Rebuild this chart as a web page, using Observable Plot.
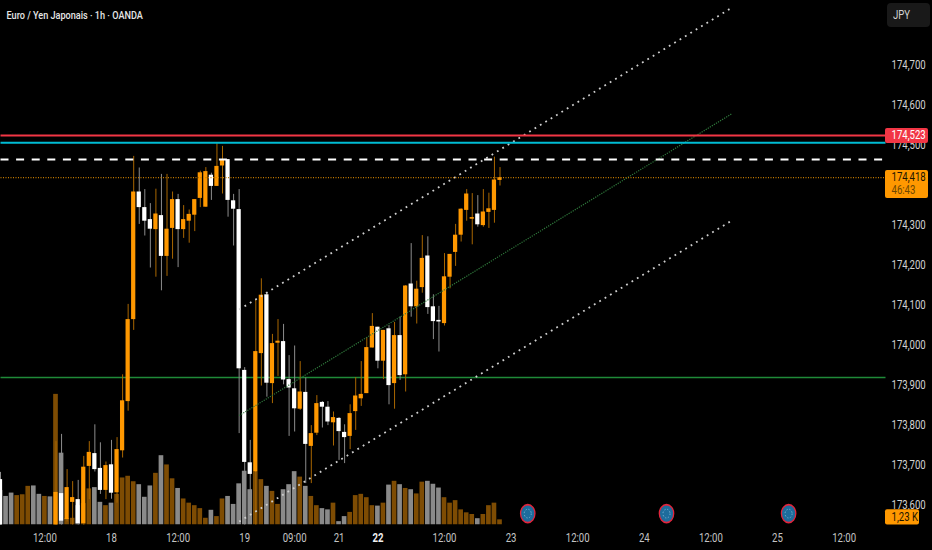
<!DOCTYPE html>
<html>
<head>
<meta charset="utf-8">
<script src="https://cdn.jsdelivr.net/npm/d3@7"></script>
<script src="https://cdn.jsdelivr.net/npm/@observablehq/plot@0.6"></script>
<style>
html,body{margin:0;padding:0;background:#000;overflow:hidden}
#chart{position:relative;width:932px;height:550px}
#unit{position:absolute;left:887px;top:3px;width:43px;height:24px;box-sizing:border-box;background:#191919;border-radius:4px;color:#d1d1d1;font:12px Roboto,sans-serif;line-height:24px;padding-left:6px}
#unit span{display:inline-block;transform:scaleX(.8);transform-origin:left center}
</style>
</head>
<body>
<div id="chart"><div id="unit"><span>JPY</span></div></div>
<script>
const N = null;
// one entry per hourly bar, hour 0 is the left edge; bars 1-9 lie below the pane
const opens = [173663,N,N,N,N,N,N,N,N,N,173536,173628,173563,173606,173613,173553,173696,173728,173691,173636,173700,173630,173735,173858,174063,174382,174343,174313,174288,174323,174221,174291,174363,174288,174309,174324,174366,174344,174424,174396,174447,174463,174360,174338,173936,173705,173682,173978,174125,173903,174004,174008,173913,173890,173839,173881,173746,173779,173856,173844,173805,173816,173781,173771,173833,173865,173878,173992,174044,173959,174040,173903,174023,173925,174152,174095,174143,174222,174095,174061,174053,174169,174231,174274,174336,174314,174327,174298,174331,174336,174411];
const closes = [173536,N,N,N,N,N,N,N,N,N,173631,173559,173643,173618,173553,173694,173731,173688,173636,173698,173629,173738,173860,174063,174382,174343,174309,174289,174327,174221,174289,174363,174288,174313,174326,174363,174430,174433,174396,174446,174461,174361,174339,173940,173706,173676,173983,174124,173904,174003,174009,173912,173892,173840,173882,173751,173778,173853,173844,173807,173818,173783,173768,173828,173872,173876,173993,174046,173959,174036,173898,174023,173923,174147,174095,174139,174216,174093,174058,174057,174170,174226,174274,174339,174377,174318,174300,174332,174340,174412,174418];
const highs = [173681,N,N,N,N,N,N,N,N,N,173758,173776,173688,173658,173661,173721,173758,173800,173755,173707,173761,173768,173925,174101,174471,174442,174388,174353,174389,174426,174426,174382,174376,174348,174337,174363,174434,174443,174429,174503,174496,174463,174376,174388,173943,173761,174113,174165,174131,174026,174063,174051,173973,173997,173958,173917,173798,173873,173858,173858,173832,173818,173800,173850,173918,173958,174018,174078,174044,174036,174048,174056,174070,174148,174253,174159,174273,174270,174125,174096,174228,174226,174301,174340,174388,174378,174373,174388,174379,174469,174443];
const lows = [173536,N,N,N,N,N,N,N,N,N,173536,173546,173557,173546,173546,173546,173613,173682,173626,173613,173614,173604,173717,173834,174036,174301,174272,174192,174169,174135,174171,174214,174193,174266,174254,174283,174343,174344,174361,174396,174377,174319,174247,173778,173536,173615,173546,173897,173869,173853,173921,173900,173771,173782,173836,173653,173653,173773,173792,173798,173747,173711,173703,173738,173786,173846,173878,173992,173940,173913,173850,173839,173911,173882,174069,174052,174129,174076,174013,173982,174047,174140,174196,174257,174309,174250,174294,174294,174291,174304,174397];
// volume in thousands
const volumes = [8.2,6.8,7.6,7.0,7.2,9.2,9.3,7.3,6.8,6.7,31.1,17.1,1.5,1.6,4.6,5.1,8.6,8.9,5.4,4.6,5.2,7.3,11.2,11.6,10.3,9.6,6.6,9.3,12.3,16.5,14.3,11,8.7,6.2,5.2,4.6,3.9,1.6,3.5,2.0,6.2,6.8,4.9,9.8,12.8,8.4,12.6,10.8,9.2,8.0,4.9,8.4,9.6,12.7,11.4,9.2,6.8,4.6,3.9,3.6,5.2,0.8,2.0,3.0,7.0,7.3,6.5,4.6,4.5,5.2,9.5,10.4,9.6,8.7,8.4,7.4,10.2,10.4,9.7,8.8,6.5,5.2,5.8,3.6,2.9,2.5,1.5,2.5,4.6,5.2,1.23];
const greyVolumeBars = [0,1,2,6,7,9,11,14,17,18,20,25,26,27,29,32,38,41,42,43,44,45,48,51,52,53,55,58,59,61,62,68,70,72,74,77,78,79,86];

const priceTicks = [173600,173700,173800,173900,174000,174100,174200,174300,174500,174600,174700];
const timeHours = [8,20,32,44,53,61,80,92,104,116,128,140,152];
const timeLabels = ["12:00","18","12:00","19","09:00","21","12:00","23","12:00","24","12:00","25","12:00"];
const boldHour = 68, boldLabel = "22";

const redLevel = 174523, cyanLevel = 174505, dashLevel = 174463, lastPrice = 174418, greenLevel = 173918;
const countdown = "46:43", lastVolume = "1,23 K";
const channelHours = [43, 131.8];
const channelTop = [174088, 174843];
const channelMid = [173823, 174578];
const channelLow = [173558, 174311];
const eventHours = [95, 120, 142];
const eventPrice = 173578;

const ORANGE = "#ff9800", WHITE = "#ffffff", BROWN = "#7e4c03", GREY = "#8a8a8a";
const FONT = 'Roboto, sans-serif';
const pxPerHour = 5.55, paneEnd = 885, tagEnd = 928, volTagEnd = 919;
const xMax = paneEnd / pxPerHour, xTag = tagEnd / pxPerHour, xVolTag = volTagEnd / pxPerHour;
const priceTop = 174860.75, priceBottom = 173549.5, priceFromVol = 10.5;

const bars = opens.map((o, i) => ({i, o, c: closes[i], h: highs[i], l: lows[i]})).filter(d => d.o !== null);
const vols = volumes.map((v, i) => ({i, v, grey: greyVolumeBars.includes(i)}));
const line = (ys) => channelHours.map((x, k) => ({x, y: ys[k]}));
const level = (p) => [{x: 0, y: p}, {x: xMax, y: p}];
const fmt = d3.format(",");
const butt = {x: "x", y: "y", strokeLinecap: "butt"};

const squeeze = (index, scales, values, dims, ctx, next) => {
  const g = next(index, scales, values, dims, ctx);
  d3.select(g).selectAll("circle").attr("transform", function () {
    const cx = +this.getAttribute("cx"), cy = +this.getAttribute("cy");
    return `translate(${cx},${cy}) scale(0.8,1) translate(${-cx},${-cy})`;
  });
  return g;
};

const chart = Plot.plot({
  width: 932, height: 550,
  marginLeft: 0, marginTop: 0, marginRight: 47, marginBottom: 25.5,
  style: {background: "#000", color: "#d1d1d1", fontFamily: FONT, fontSize: "12px"},
  x: {domain: [0, xMax], range: [0, paneEnd]},
  y: {domain: [priceBottom, priceTop], range: [524.5, 0]},
  marks: [
    Plot.axisY({anchor: "right", ticks: priceTicks, tickSize: 0, tickPadding: 6, tickFormat: fmt, label: null, color: "#d1d1d1", fontSize: 12}),
    Plot.axisX({anchor: "bottom", ticks: timeHours, tickSize: 0, tickPadding: 8, label: null, color: "#c4c4c4", fontSize: 12,
      tickFormat: d => timeLabels[timeHours.indexOf(d)]}),
    Plot.axisX({anchor: "bottom", ticks: [boldHour], tickSize: 0, tickPadding: 8, label: null, color: "#f0f0f0", fontSize: 12, fontWeight: "bold",
      tickFormat: () => boldLabel}),
    Plot.rect(vols, {x1: d => d.i - 0.42, x2: d => d.i + 0.42, y1: priceBottom, y2: d => priceBottom + d.v * priceFromVol,
      fill: d => d.grey ? GREY : BROWN, clip: true}),
    Plot.line(level(greenLevel), {...butt, stroke: "#1f8a38", strokeWidth: 1.5}),
    Plot.ruleX(bars, {x: "i", y1: "l", y2: "h", stroke: d => d.c >= d.o ? "#a86600" : "#8c8c8c", strokeWidth: 1, clip: true}),
    Plot.rect(bars, {x1: d => d.i - 0.38, x2: d => d.i + 0.38, y1: "o", y2: "c", fill: d => d.c >= d.o ? ORANGE : WHITE, clip: true}),
    Plot.line(line(channelMid), {...butt, stroke: "#2f7a3c", strokeWidth: 1.2, strokeDasharray: "1.2 1.2"}),
    Plot.line(line(channelTop), {...butt, stroke: "#cfcfcf", strokeWidth: 1.8, strokeDasharray: "1.8 4.5"}),
    Plot.line(line(channelLow), {...butt, stroke: "#cfcfcf", strokeWidth: 1.8, strokeDasharray: "1.8 4.5"}),
    Plot.line(level(lastPrice), {...butt, stroke: "#c47a00", strokeWidth: 1.2, strokeDasharray: "1 1.5"}),
    Plot.line(level(dashLevel), {...butt, stroke: "#ffffff", strokeWidth: 2, strokeDasharray: "8 7.6"}),
    Plot.line(level(cyanLevel), {...butt, stroke: "#00bcd4", strokeWidth: 2}),
    Plot.line(level(redLevel), {...butt, stroke: "#f23645", strokeWidth: 2}),
    Plot.rect([0], {x1: xMax, x2: xTag, y1: redLevel + 18, y2: redLevel - 20, fill: "#f23645", rx: 2}),
    Plot.text([redLevel], {x: xMax, y: d => d, text: fmt, dx: 6, textAnchor: "start", fill: "#fff", fontSize: 12}),
    Plot.rect([0], {x1: xMax, x2: xTag, y1: lastPrice + 18, y2: lastPrice - 52, fill: ORANGE, rx: 2}),
    Plot.text([lastPrice], {x: xMax, y: d => d, text: fmt, dx: 6, textAnchor: "start", fill: "#1c1400", fontSize: 12}),
    Plot.text([countdown], {x: xMax, y: lastPrice - 31, text: d => d, dx: 6, textAnchor: "start", fill: "#6f4700", fontSize: 12}),
    Plot.rect([0], {x1: xMax, x2: xVolTag, y1: priceBottom + 38, y2: priceBottom, fill: ORANGE, rx: 2}),
    Plot.text([lastVolume], {x: xMax, y: priceBottom + 19, text: d => d, dx: 6, textAnchor: "start", fill: "#1c1400", fontSize: 12}),
    Plot.dot(eventHours, {x: d => d, y: eventPrice, r: 9, fill: "#1d6c9c", stroke: "#e5243b", strokeWidth: 1.6, render: squeeze}),
    Plot.dot(eventHours, {x: d => d, y: eventPrice, r: 4.4, fill: "none", stroke: "#7fb4d6", strokeWidth: 1, strokeDasharray: "1.5 2", render: squeeze}),
    Plot.text(["Euro / Yen Japonais · 1h · OANDA"], {frameAnchor: "top-left", dx: 6, dy: 10, text: d => d, textAnchor: "start", fill: "#e6e6e6", fontSize: 11.4, fontWeight: 500})
  ]
});
// the reference's lettering is horizontally condensed
d3.select(chart).selectAll("text").attr("transform", function () {
  const ax = +this.getAttribute("x") || 0;
  return `${this.getAttribute("transform") || ""} translate(${ax},0) scale(0.8,1) translate(${-ax},0)`;
});
document.getElementById("chart").prepend(chart);
</script>
</body>
</html>
